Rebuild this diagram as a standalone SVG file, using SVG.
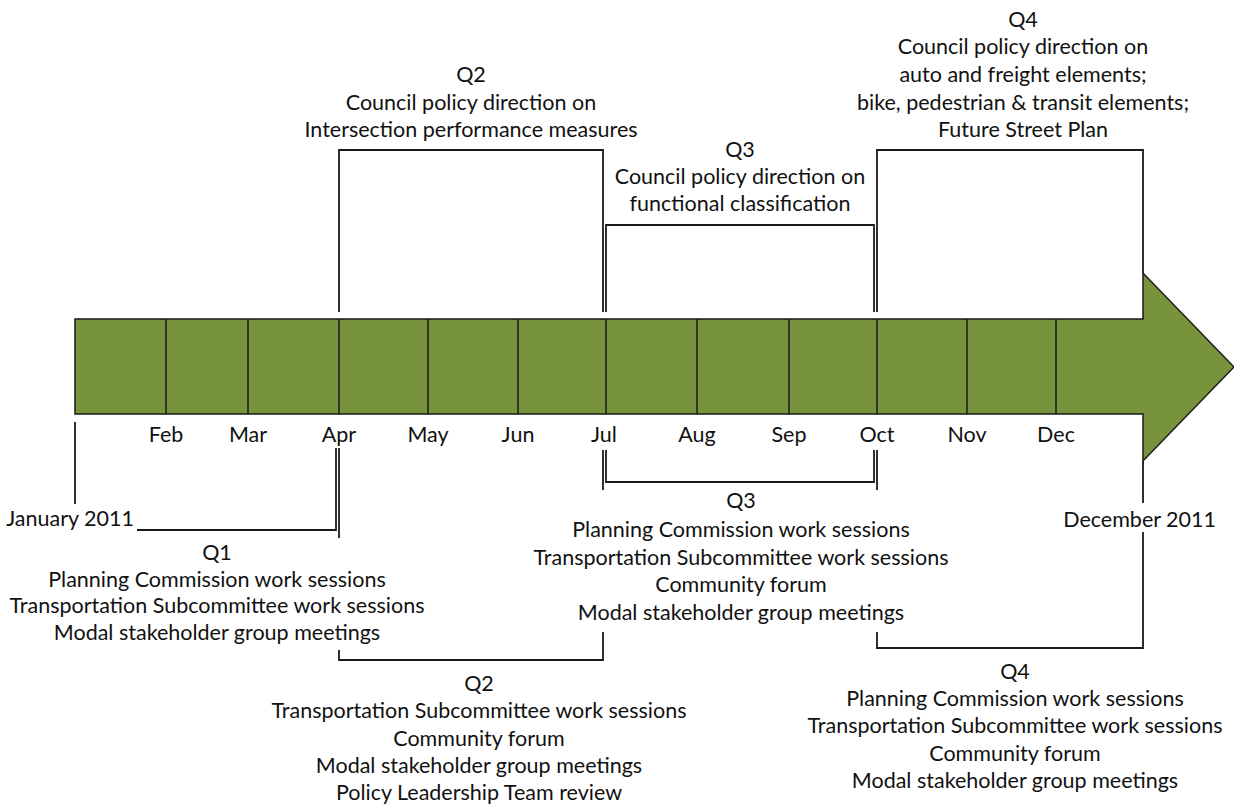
<svg xmlns="http://www.w3.org/2000/svg" width="1234" height="804" viewBox="0 0 1234 804">
<style>
text{font-family:Lato,"Open Sans","Liberation Sans",sans-serif;font-size:21.5px;fill:#111;text-anchor:middle}
.ln{fill:none;stroke:#1a1a1a;stroke-width:1.8}
.div{stroke:#1a1a1a;stroke-width:1.5}
</style>
<rect width="1234" height="804" fill="#fff"/>
<g id="timeline-arrow">
<path d="M75,319 H1143 V273 L1234,367 L1143,461 V414 H75 Z" fill="#77933C" stroke="#1a1a1a" stroke-width="1.5"/>
<path class="div" d="M166,319V414M248,319V414M339,319V414M428,319V414M518,319V414M606,319V414M697,319V414M789,319V414M877,319V414M967,319V414M1056,319V414"/>
</g>
<g id="months">
<text x="166" y="442">Feb</text>
<text x="248" y="442">Mar</text>
<text x="339" y="442">Apr</text>
<text x="428" y="442">May</text>
<text x="518" y="442">Jun</text>
<text x="604" y="442">Jul</text>
<text x="697" y="442">Aug</text>
<text x="789" y="442">Sep</text>
<text x="877" y="442">Oct</text>
<text x="967" y="442">Nov</text>
<text x="1056" y="442">Dec</text>
</g>
<g id="connectors">
<path class="ln" d="M339,312V150H603V312"/>
<path class="ln" d="M606,312V225H874V312"/>
<path class="ln" d="M877,312V150H1143V273"/>
<path class="ln" d="M75,422V504"/>
<path class="ln" d="M137,530H336V448"/>
<path class="ln" d="M339,448V538"/>
<path class="ln" d="M606,450V482H874V450"/>
<path class="ln" d="M603,450V490M877,450V490"/>
<path class="ln" d="M339,650V660H603V632"/>
<path class="ln" d="M877,632V648H1143V532M1143,503V461"/>
</g>
<g id="top-q2">
<text x="471" y="82">Q2</text>
<text x="471" y="110">Council policy direction on</text>
<text x="471" y="137">Intersection performance measures</text>
</g>
<g id="top-q3">
<text x="740" y="157">Q3</text>
<text x="740" y="184">Council policy direction on</text>
<text x="740" y="211">functional classification</text>
</g>
<g id="top-q4">
<text x="1023" y="27">Q4</text>
<text x="1023" y="54">Council policy direction on</text>
<text x="1023" y="82">auto and freight elements;</text>
<text x="1023" y="110">bike, pedestrian &amp; transit elements;</text>
<text x="1023" y="137">Future Street Plan</text>
</g>
<g id="start-label">
<text x="134" y="526" style="text-anchor:end">January 2011</text>
</g>
<g id="end-label">
<text x="1216" y="527" style="text-anchor:end">December 2011</text>
</g>
<g id="bottom-q1">
<text x="217" y="560">Q1</text>
<text x="217" y="587">Planning Commission work sessions</text>
<text x="217" y="613">Transportation Subcommittee work sessions</text>
<text x="217" y="640">Modal stakeholder group meetings</text>
</g>
<g id="bottom-q3">
<text x="741" y="508">Q3</text>
<text x="741" y="537">Planning Commission work sessions</text>
<text x="741" y="565">Transportation Subcommittee work sessions</text>
<text x="741" y="592">Community forum</text>
<text x="741" y="620">Modal stakeholder group meetings</text>
</g>
<g id="bottom-q2">
<text x="479" y="691">Q2</text>
<text x="479" y="718">Transportation Subcommittee work sessions</text>
<text x="479" y="746">Community forum</text>
<text x="479" y="773">Modal stakeholder group meetings</text>
<text x="479" y="800">Policy Leadership Team review</text>
</g>
<g id="bottom-q4">
<text x="1015" y="679">Q4</text>
<text x="1015" y="706">Planning Commission work sessions</text>
<text x="1015" y="733">Transportation Subcommittee work sessions</text>
<text x="1015" y="761">Community forum</text>
<text x="1015" y="788">Modal stakeholder group meetings</text>
</g>
</svg>
